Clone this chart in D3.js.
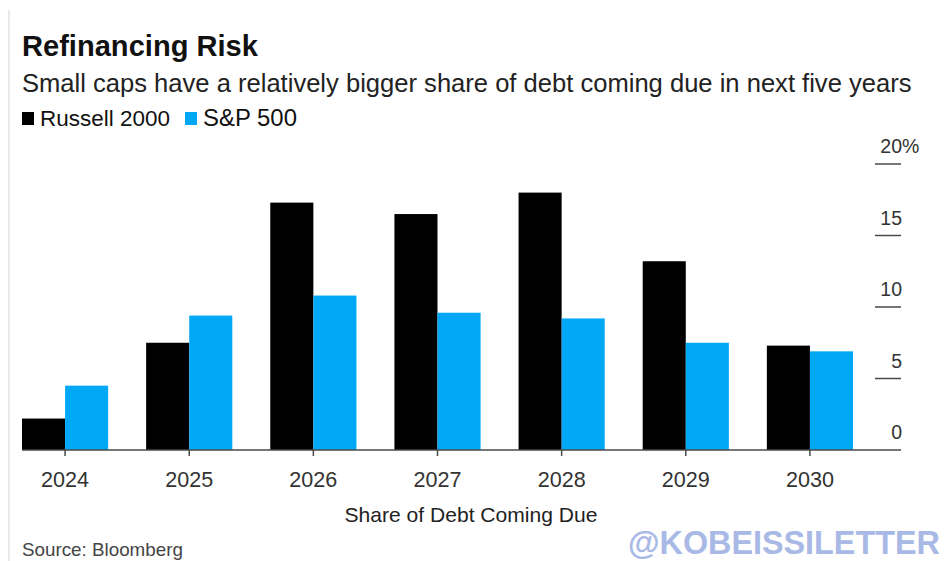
<!DOCTYPE html>
<html>
<head>
<meta charset="utf-8">
<script src="https://cdn.jsdelivr.net/npm/d3@7"></script>
<style>
  body { margin: 0; background: #fff; }
  svg { display: block; font-family: "Liberation Sans", Arial, sans-serif; }
</style>
</head>
<body>
<div id="chart"></div>
<script>
// data (share of debt coming due, %)
const years = ["2024", "2025", "2026", "2027", "2028", "2029", "2030"];
const russell2000 = [2.2, 7.5, 17.3, 16.5, 18.0, 13.2, 7.3];
const sp500 = [4.5, 9.4, 10.8, 9.6, 9.2, 7.5, 6.9];
const seriesNames = ["Russell 2000", "S&P 500"];
const yTicks = [0, 5, 10, 15, 20];

const colors = { "Russell 2000": "#000000", "S&P 500": "#00a8f5" };

const width = 944, height = 561;

const svg = d3.select("#chart").append("svg")
  .attr("width", width)
  .attr("height", height);

// size a text node so it spans a given width
function fitText(sel, target) {
  sel.style("font-size", "20px");
  const w = sel.node().getComputedTextLength();
  sel.style("font-size", (20 * target / w) + "px");
  return sel;
}

// faint left border
svg.append("line")
  .attr("x1", 9).attr("x2", 9)
  .attr("y1", 10).attr("y2", height)
  .attr("stroke", "#e2e2e2")
  .attr("stroke-width", 1.5);

/*----------------------
HEADER
----------------------*/
fitText(svg.append("text")
  .attr("x", 22).attr("y", 56)
  .attr("font-weight", "bold")
  .attr("fill", "#111")
  .text("Refinancing Risk"), 236);

fitText(svg.append("text")
  .attr("x", 22).attr("y", 92)
  .attr("fill", "#222")
  .text("Small caps have a relatively bigger share of debt coming due in next five years"), 890);

// legend
const legendX = [22, 185];
const legendW = [130, 94];
seriesNames.forEach((name, i) => {
  svg.append("rect")
    .attr("x", legendX[i]).attr("y", 112)
    .attr("width", 12).attr("height", 13)
    .attr("fill", colors[name]);
  fitText(svg.append("text")
    .attr("x", legendX[i] + 18).attr("y", 126)
    .attr("fill", "#111")
    .text(name), legendW[i]);
});

/*----------------------
SCALES
----------------------*/
const x = d3.scaleBand()
  .domain(years)
  .range([22, 853])
  .paddingInner(0.306)
  .paddingOuter(0);

const xInner = d3.scaleBand()
  .domain(seriesNames)
  .range([0, x.bandwidth()]);

const y = d3.scaleLinear()
  .domain([0, 20])
  .range([450, 164]);

const rows = years.map((yr, i) => ({
  year: yr,
  values: [
    { key: "Russell 2000", value: russell2000[i] },
    { key: "S&P 500", value: sp500[i] }
  ]
}));

/*----------------------
BARS
----------------------*/
const groups = svg.append("g").selectAll("g")
  .data(rows)
  .join("g")
  .attr("transform", d => `translate(${x(d.year)},0)`);

groups.selectAll("rect")
  .data(d => d.values)
  .join("rect")
  .attr("x", d => xInner(d.key))
  .attr("y", d => y(d.value))
  .attr("width", xInner.bandwidth())
  .attr("height", d => y(0) - y(d.value))
  .attr("fill", d => colors[d.key]);

/*----------------------
AXES
----------------------*/
// baseline
svg.append("line")
  .attr("x1", 22).attr("x2", 901)
  .attr("y1", y(0)).attr("y2", y(0))
  .attr("stroke", "#4a4a4a")
  .attr("stroke-width", 1.5);

// x ticks and labels
const xAxis = svg.append("g");
years.forEach(yr => {
  const cx = x(yr) + x.bandwidth() / 2;
  xAxis.append("line")
    .attr("x1", cx).attr("x2", cx)
    .attr("y1", y(0)).attr("y2", y(0) + 6)
    .attr("stroke", "#4a4a4a")
    .attr("stroke-width", 1.5);
  fitText(xAxis.append("text")
    .attr("x", cx).attr("y", 487)
    .attr("text-anchor", "middle")
    .attr("fill", "#333")
    .text(yr), 48);
});

// y ticks on the right, labels sit above the tick line
const yAxis = svg.append("g");
yTicks.forEach(t => {
  if (t > 0) {
    yAxis.append("line")
      .attr("x1", 875).attr("x2", 901)
      .attr("y1", y(t)).attr("y2", y(t))
      .attr("stroke", "#4a4a4a")
      .attr("stroke-width", 1.5);
  }
  yAxis.append("text")
    .attr("x", 902).attr("y", y(t) - 11)
    .attr("text-anchor", "end")
    .attr("fill", "#333")
    .style("font-size", "19.5px")
    .text(t);
  if (t === 20) {
    yAxis.append("text")
      .attr("x", 902).attr("y", y(t) - 11)
      .attr("fill", "#333")
      .style("font-size", "19.5px")
      .text("%");
  }
});

fitText(svg.append("text")
  .attr("x", 471).attr("y", 522)
  .attr("text-anchor", "middle")
  .attr("fill", "#222")
  .text("Share of Debt Coming Due"), 253);

/*----------------------
FOOTER
----------------------*/
fitText(svg.append("text")
  .attr("x", 22).attr("y", 556)
  .attr("fill", "#444")
  .text("Source: Bloomberg"), 161);

fitText(svg.append("text")
  .attr("x", 628).attr("y", 554)
  .attr("font-weight", "bold")
  .attr("fill", "#a9b9e6")
  .text("@KOBEISSILETTER"), 312);
</script>
</body>
</html>
